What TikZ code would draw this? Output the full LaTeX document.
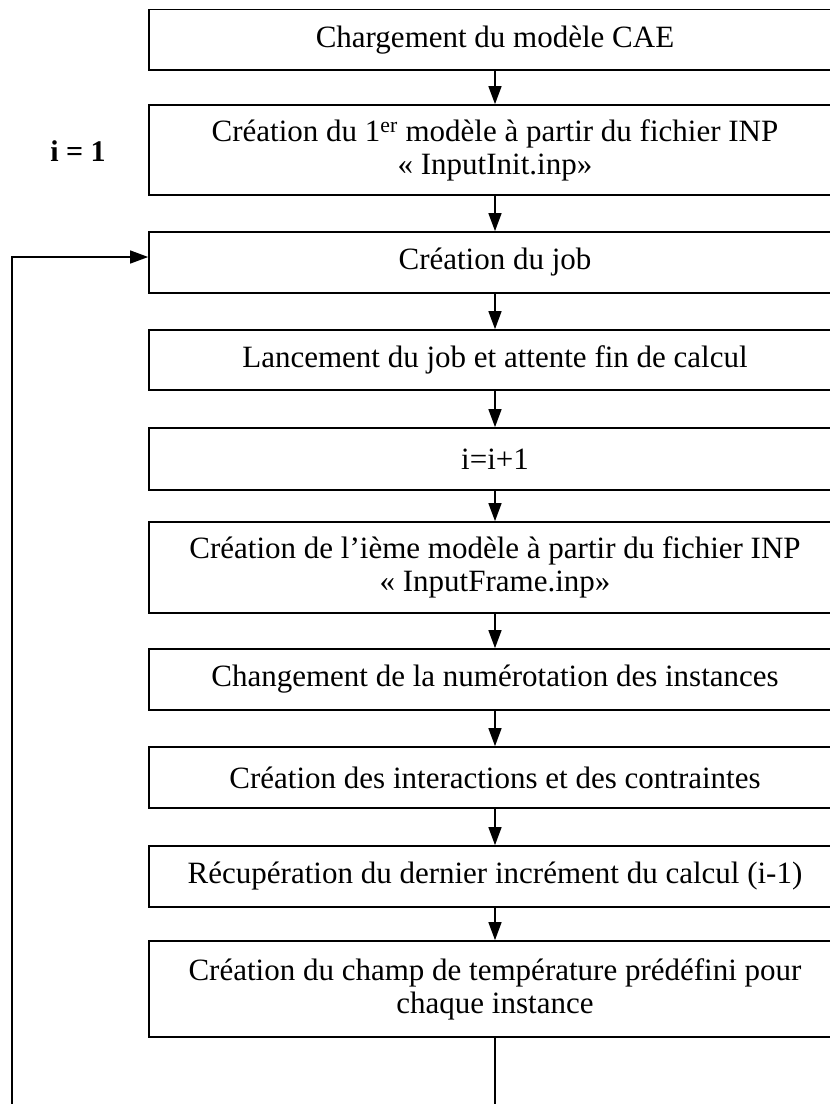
\documentclass[tikz,border=0pt]{standalone}
\usepackage{fontspec}
\setmainfont{Liberation Serif}
\usetikzlibrary{arrows.meta}
\begin{document}
\begin{tikzpicture}[x=1pt,y=-1pt,
  box/.style={draw, line width=1.7pt, minimum width=692pt, inner sep=0pt, align=center,
    font=\fontsize{31}{33}\selectfont},
  arr/.style={line width=1.4pt, -{Triangle[length=18pt,width=13pt]}},
  lbl/.style={font=\fontsize{30}{33}\selectfont\bfseries}]
\useasboundingbox (0,0) rectangle (830,1104);
\clip (0,0) rectangle (830,1104);
\node[box, minimum height=60.5pt] (b1) at (495,39.75) {Chargement du modèle CAE};
\node[box, minimum height=90pt] (b2) at (495,150) {Création du 1\textsuperscript{er} modèle à partir du fichier INP\\« InputInit.inp»};
\node[box, minimum height=61pt] (b3) at (495,262.5) {Création du job};
\node[box, minimum height=60pt] (b4) at (495,360) {Lancement du job et attente fin de calcul};
\node[box, minimum height=62pt] (b5) at (495,459) {i=i+1};
\node[box, minimum height=91pt] (b6) at (495,567.5) {Création de l’ième modèle à partir du fichier INP\\« InputFrame.inp»};
\node[box, minimum height=61pt] (b7) at (495,679.5) {Changement de la numérotation des instances};
\node[box, minimum height=61pt] (b8) at (495,777.5) {Création des interactions et des contraintes};
\node[box, minimum height=61pt] (b9) at (495,876.5) {Récupération du dernier incrément du calcul (i-1)};
\node[box, minimum height=96pt] (b10) at (495,989) {Création du champ de température prédéfini pour\\chaque instance};
\node[lbl] (i1) at (78,151) {i = 1};
\draw[arr] (b1) -- (b2);
\draw[arr] (b2) -- (b3);
\draw[arr] (b3) -- (b4);
\draw[arr] (b4) -- (b5);
\draw[arr] (b5) -- (b6);
\draw[arr] (b6) -- (b7);
\draw[arr] (b7) -- (b8);
\draw[arr] (b8) -- (b9);
\draw[arr] (b9) -- (b10);
\coordinate (lb) at (495,1130);
\coordinate (ll) at (12,1130);
\coordinate (lt) at (12,257);
\draw[arr] (b10.south) -- (lb) -- (ll) -- (lt) -- (lt -| b3.west);
\end{tikzpicture}
\end{document}
